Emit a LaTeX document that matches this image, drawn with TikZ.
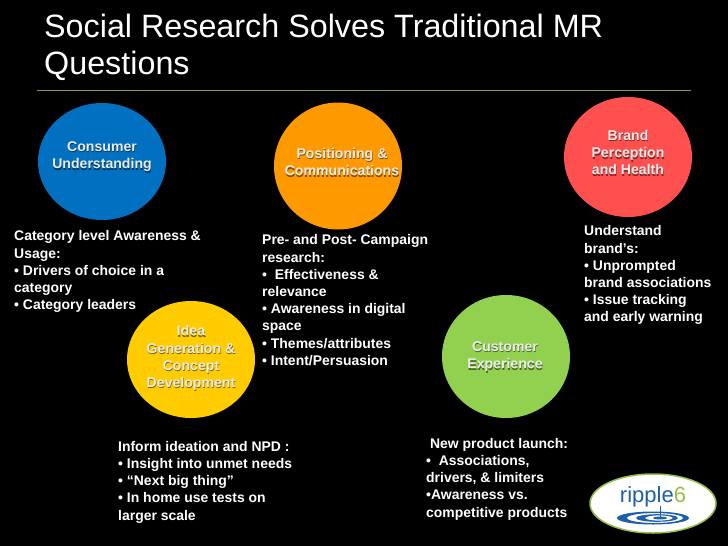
\documentclass[tikz,border=0pt]{standalone}
\usepackage{fontspec}
\setmainfont{Liberation Sans}
\usepackage{tikz}
\usetikzlibrary{shapes.geometric}
\definecolor{blueblob}{RGB}{1,112,192}
\definecolor{orangeblob}{RGB}{255,153,0}
\definecolor{redblob}{RGB}{255,80,80}
\definecolor{yellowblob}{RGB}{255,204,0}
\definecolor{greenblob}{RGB}{146,208,80}
\definecolor{rulegreen}{RGB}{130,160,85}
\definecolor{rippleblue}{RGB}{30,95,165}
\definecolor{ripplegreen}{RGB}{150,190,70}
\tikzstyle{blob}=[ellipse, inner sep=0pt, minimum width=128pt]
\tikzstyle{blobtext}=[text=white!92!black, font=\bfseries\fontsize{14.1}{17.2}\selectfont, align=center, inner sep=0pt]
\tikzstyle{blobshade}=[blobtext, text=black, opacity=0.5]
\tikzstyle{bodytext}=[text=white, font=\bfseries\fontsize{13.95}{17.2}\selectfont, align=left, anchor=north west, inner sep=0pt]
\tikzstyle{titletext}=[text=white, font=\fontsize{32.3}{37}\selectfont, align=left, anchor=north west, inner sep=0pt]
\newcommand{\blobname}[3]{\node[blobshade] at (#1+0.5,#2+1.5) {#3};\node[blobtext] at (#1,#2) {#3};}
\begin{document}
\begin{tikzpicture}[x=1pt,y=-1pt]
	\fill[black] (0,0) rectangle (728,546);
	\useasboundingbox (0,0) rectangle (728,546);

	\node[titletext] (title) at (44,14) {Social Research Solves Traditional MR\\Questions};
	\coordinate (ruleL) at (37,90.5);
	\coordinate (ruleR) at (691,90.5);
	\draw[rulegreen, line width=0.7pt] (ruleL)--(ruleR);

	\node[blob, fill=blueblob, minimum height=117pt] (consumer) at (102,161.5) {};
	\node[blob, fill=orangeblob, minimum height=127pt] (positioning) at (338,166) {};
	\node[blob, fill=redblob, minimum height=120pt] (brand) at (628,157) {};
	\node[blob, fill=yellowblob, minimum height=117pt] (idea) at (191,359.5) {};
	\node[blob, fill=greenblob, minimum height=123pt] (customer) at (506,356.5) {};

	\blobname{102}{156.5}{Consumer\\Understanding}
	\blobname{342}{162}{Positioning \&\\Communications}
	\blobname{628}{152.5}{Brand\\Perception\\and Health}
	\blobname{191}{358}{Idea\\Generation \&\\Concept\\Development}
	\blobname{505}{356.5}{Customer\\Experience}

	\node[bodytext] (consumertext) at (14,230.5) {Category level Awareness \&\\Usage:\\• Drivers of choice in a\\category\\• Category leaders};
	\node[bodytext] (positioningtext) at (262,234.5) {Pre- and Post- Campaign\\research:\\•\ \ Effectiveness \&\\relevance\\• Awareness in digital\\space\\• Themes/attributes\\• Intent/Persuasion};
	\node[bodytext] (brandtext) at (584,225.5) {Understand\\brand’s:\\• Unprompted\\brand associations\\• Issue tracking\\and early warning};
	\node[bodytext] (ideatext) at (118,441) {Inform ideation and NPD :\\• Insight into unmet needs\\• “Next big thing”\\• In home use tests on\\larger scale};
	\node[bodytext] (customertext) at (426,438) {\ New product launch:\\•\ \ Associations,\\drivers, \& limiters\\•Awareness vs.\\competitive products};

	\node[ellipse, fill=white, draw=ripplegreen, line width=1.5pt, inner sep=0pt, minimum width=126pt, minimum height=59pt] (logo) at (653,503.5) {};
	\node[inner sep=0pt, font=\fontsize{22}{22}\selectfont, text=rippleblue] (logotext) at (653,497) {ripple\textcolor{ripplegreen}{6}};
	\coordinate (dropT) at (660,506);
	\coordinate (dropB) at (660,517);
	\draw[rippleblue, line width=0.8pt] (dropT)--(dropB);
	\fill[rippleblue, even odd rule] (653,518) ellipse (36pt and 6.5pt) (655,518) ellipse (28pt and 5pt) (657,518) ellipse (21pt and 3.8pt) (659,518) ellipse (14pt and 2.6pt) (660,518) ellipse (7pt and 1.4pt);
\end{tikzpicture}
\end{document}
